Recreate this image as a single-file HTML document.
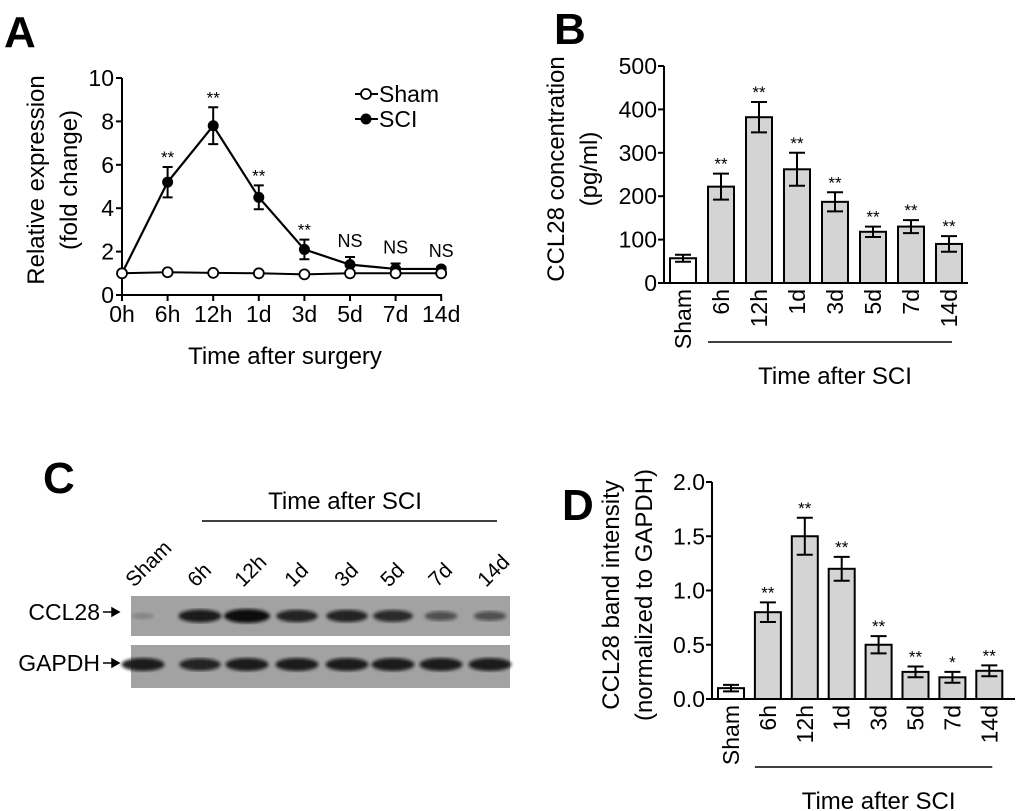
<!DOCTYPE html>
<html><head><meta charset="utf-8"><style>
body{margin:0;background:#fff;}
svg{display:block;font-family:"Liberation Sans",Arial,sans-serif;}
</style></head><body>
<svg id="fig" width="1020" height="811" viewBox="0 0 1020 811">
<g id="A"></g>
<g id="B"></g>
<g id="C"></g>
<g id="D"></g>
</svg>
<script>
// Panel A data
const aCats = ["0h","6h","12h","1d","3d","5d","7d","14d"];
const aSCI = [1, 5.2, 7.8, 4.5, 2.1, 1.4, 1.2, 1.2];
const aSCIerr = [0, 0.7, 0.85, 0.55, 0.45, 0.35, 0.25, 0.1];
const aSham = [1, 1.05, 1.02, 1.0, 0.95, 1.0, 1.0, 1.0];
const aSig = ["", "**", "**", "**", "**", "NS", "NS", "NS"];
const aTicks = [0, 2, 4, 6, 8, 10];
// Panel B data
const bCats = ["Sham","6h","12h","1d","3d","5d","7d","14d"];
const bVals = [57, 222, 382, 262, 187, 118, 130, 90];
const bErr = [8, 30, 35, 38, 22, 12, 15, 18];
const bSig = ["", "**", "**", "**", "**", "**", "**", "**"];
const bTicks = [0, 100, 200, 300, 400, 500];
// Panel D data
const dCats = ["Sham","6h","12h","1d","3d","5d","7d","14d"];
const dVals = [0.1, 0.8, 1.5, 1.2, 0.5, 0.25, 0.2, 0.26];
const dErr = [0.03, 0.09, 0.17, 0.11, 0.08, 0.05, 0.05, 0.05];
const dSig = ["", "**", "**", "**", "**", "**", "*", "**"];
const dTicks = ["0.0","0.5","1.0","1.5","2.0"];
// Panel C band intensities (0-1)
const cLanes = ["Sham","6h","12h","1d","3d","5d","7d","14d"];
const cCCL = [0.2, 0.9, 1.0, 0.85, 0.85, 0.8, 0.55, 0.55];
const cGAP = [0.9, 0.85, 0.9, 0.9, 0.9, 0.9, 0.9, 0.9];

const NS = "http://www.w3.org/2000/svg";
function mk(parent, tag, attrs, text){
  const e = document.createElementNS(NS, tag);
  for (const k in attrs) e.setAttribute(k, attrs[k]);
  if (text !== undefined) e.textContent = text;
  parent.appendChild(e);
  return e;
}
const A = document.getElementById('A'), B = document.getElementById('B'), C = document.getElementById('C'), D = document.getElementById('D');
const TK = 23, TT = 24;

// ---------- Panel A ----------
const ax = i => 122 + i * 45.6;
const ay = v => 295 - v * 21.7;
let t = mk(A, 'text', {x:4, y:47, 'font-size':44, 'font-weight':'bold'}, 'A');


mk(A, 'path', {d:`M122 ${ay(10)} V295 H442`, stroke:'#000', 'stroke-width':2, fill:'none'});
aTicks.forEach(v => {
  mk(A, 'line', {x1:116, x2:122, y1:ay(v), y2:ay(v), stroke:'#000', 'stroke-width':2});
  t = mk(A, 'text', {x:114, y:ay(v)+8, 'font-size':TK, 'text-anchor':'end'}, v);
  
  
});
aCats.forEach((c, i) => {
  mk(A, 'line', {x1:ax(i), x2:ax(i), y1:295, y2:301, stroke:'#000', 'stroke-width':2});
  t = mk(A, 'text', {x:ax(i), y:322, 'font-size':TK, 'text-anchor':'middle'}, c);
  
  
});
t = mk(A, 'text', {x:285, y:364, 'font-size':TT, 'text-anchor':'middle'}, 'Time after surgery');


t = mk(A, 'text', {transform:'translate(44,180) rotate(-90)', 'font-size':TT, 'text-anchor':'middle'}, 'Relative expression');


mk(A, 'text', {transform:'translate(77,180) rotate(-90)', 'font-size':TT, 'text-anchor':'middle'}, '(fold change)');
mk(A, 'polyline', {points: aSham.map((v,i)=>`${ax(i)},${ay(v)}`).join(' '), fill:'none', stroke:'#000', 'stroke-width':2});
mk(A, 'polyline', {points: aSCI.map((v,i)=>`${ax(i)},${ay(v)}`).join(' '), fill:'none', stroke:'#000', 'stroke-width':2.2});
aSCI.forEach((v, i) => {
  const e = aSCIerr[i];
  if (e > 0) {
    mk(A, 'path', {d:`M${ax(i)} ${ay(v-e)} V${ay(v+e)} M${ax(i)-5} ${ay(v-e)} h10 M${ax(i)-5} ${ay(v+e)} h10`, stroke:'#000', 'stroke-width':2, fill:'none'});
  }
  const p = mk(A, 'circle', {cx:ax(i), cy:ay(v), r:5.5, fill:'#000'});
  
  
  if (aSig[i]) {
    const s = aSig[i] === 'NS';
    mk(A, 'text', {x:ax(i), y:ay(v+e) - (s ? 10 : 4), 'font-size': s ? 18 : 17, 'text-anchor':'middle'}, aSig[i]);
  }
});
aSham.forEach((v, i) => {
  const p = mk(A, 'circle', {cx:ax(i), cy:ay(v), r:5, fill:'#fff', stroke:'#000', 'stroke-width':1.8});
  
  
});
mk(A, 'line', {x1:355, x2:378, y1:94, y2:94, stroke:'#000', 'stroke-width':2});
mk(A, 'circle', {cx:366, cy:94, r:5, fill:'#fff', stroke:'#000', 'stroke-width':1.8});
t = mk(A, 'text', {x:379, y:102, 'font-size':TK}, 'Sham');


mk(A, 'line', {x1:355, x2:378, y1:119, y2:119, stroke:'#000', 'stroke-width':2});
mk(A, 'circle', {cx:366, cy:119, r:5.5, fill:'#000'});
t = mk(A, 'text', {x:379, y:127, 'font-size':TK}, 'SCI');



// ---------- Bar chart helper ----------
function barChart(G, o) {
  const y = v => o.y0 - v / o.max * (o.y0 - o.yTop);
  const x = i => o.x0 + i * o.step;
  mk(G, 'path', {d:`M${o.axX} ${o.yTop} V${o.y0} H${o.axEnd}`, stroke:'#000', 'stroke-width':2, fill:'none'});
  o.ticks.forEach(tk => {
    const v = parseFloat(tk);
    mk(G, 'line', {x1:o.axX-6, x2:o.axX, y1:y(v), y2:y(v), stroke:'#000', 'stroke-width':2});
    const tt = mk(G, 'text', {x:o.axX-7, y:y(v)+8, 'font-size':TK, 'text-anchor':'end'}, tk);
    
    
  });
  o.cats.forEach((c, i) => {
    const v = o.vals[i], e = o.err[i], w = 26;
    const r = mk(G, 'rect', {x:x(i)-w/2, y:y(v), width:w, height:o.y0-y(v), fill: i === 0 ? '#fff' : '#d4d4d4', stroke:'#000', 'stroke-width':2});
    
    
    mk(G, 'path', {d:`M${x(i)} ${y(v-e)} V${y(v+e)} M${x(i)-8} ${y(v-e)} h16 M${x(i)-8} ${y(v+e)} h16`, stroke:'#000', 'stroke-width':2, fill:'none'});
    if (o.sig[i]) mk(G, 'text', {x:x(i), y:y(v+e)-4, 'font-size':17, 'text-anchor':'middle'}, o.sig[i]);
    const tt = mk(G, 'text', {transform:`translate(${x(i)+8},${o.y0+6}) rotate(-90)`, 'font-size':TK, 'text-anchor':'end'}, c);
    
    
  });
  mk(G, 'line', {x1:x(1)-13, x2:x(7)+3, y1:o.lineY, y2:o.lineY, stroke:'#000', 'stroke-width':1.5});
  const tt = mk(G, 'text', {x:(x(1)+x(7))/2, y:o.lineY+42, 'font-size':TT, 'text-anchor':'middle'}, 'Time after SCI');
  
  
  o.ylabel.forEach((l, k) => {
    const yl = mk(G, 'text', {transform:`translate(${o.ylx + k*33},${o.yly}) rotate(-90)`, 'font-size':TT, 'text-anchor':'middle'}, l);
    
    
  });
}

t = mk(B, 'text', {x:554, y:44, 'font-size':44, 'font-weight':'bold'}, 'B');


barChart(B, {cats:bCats, vals:bVals, err:bErr, sig:bSig, ticks:bTicks, max:500, y0:283, yTop:66, axX:664, axEnd:968, x0:683, step:38, lineY:342, ylabel:['CCL28 concentration','(pg/ml)'], ylx:564, yly:169});

t = mk(D, 'text', {x:562, y:520, 'font-size':44, 'font-weight':'bold'}, 'D');


barChart(D, {cats:dCats, vals:dVals, err:dErr, sig:dSig, ticks:dTicks, max:2, y0:699, yTop:482, axX:712, axEnd:1015, x0:731, step:36.9, lineY:767, ylabel:['CCL28 band intensity','(normalized to GAPDH)'], ylx:619, yly:595});

// ---------- Panel C ----------
t = mk(C, 'text', {x:43, y:493, 'font-size':44, 'font-weight':'bold'}, 'C');


mk(C, 'text', {x:345, y:509, 'font-size':TT, 'text-anchor':'middle'}, 'Time after SCI');
mk(C, 'line', {x1:202, x2:497, y1:521, y2:521, stroke:'#000', 'stroke-width':1.5});
const cx = [143, 200, 247, 297, 347, 393, 441, 490];
const defs = mk(C, 'defs', {});
const flt = mk(defs, 'filter', {id:'blur'});
mk(flt, 'feGaussianBlur', {stdDeviation:1.5});
[[596, 636, cCCL, 'CCL28', 612], [645, 688, cGAP, 'GAPDH', 663]].forEach(([y1, y2, arr, lab, ly]) => {
  const r = mk(C, 'rect', {x:131, y:y1, width:379, height:y2-y1, fill:'#a2a2a2'});
  
  
  const cy = (y1 + y2) / 2 + (lab === 'GAPDH' ? -2 : 0);
  arr.forEach((v, i) => {
    const b = mk(C, 'ellipse', {cx:cx[i], cy:cy, rx: 8 + v*15, ry: 2 + v*5, fill:'#111', opacity: v, filter:'url(#blur)'});
    
    
  });
  mk(C, 'text', {x:100, y:ly+8, 'font-size':TK, 'text-anchor':'end'}, lab);
  mk(C, 'path', {d:`M103 ${ly} h15 M112 ${ly-4} l7 4 l-7 4 z`, stroke:'#000', 'stroke-width':1.5, fill:'#000'});
});
cLanes.forEach((c, i) => {
  const tt = mk(C, 'text', {transform:`translate(${cx[i]-4 - (i===0?5:0)},${588}) rotate(-45)`, 'font-size':21}, c);
  
  
});
</script>
</body></html>
